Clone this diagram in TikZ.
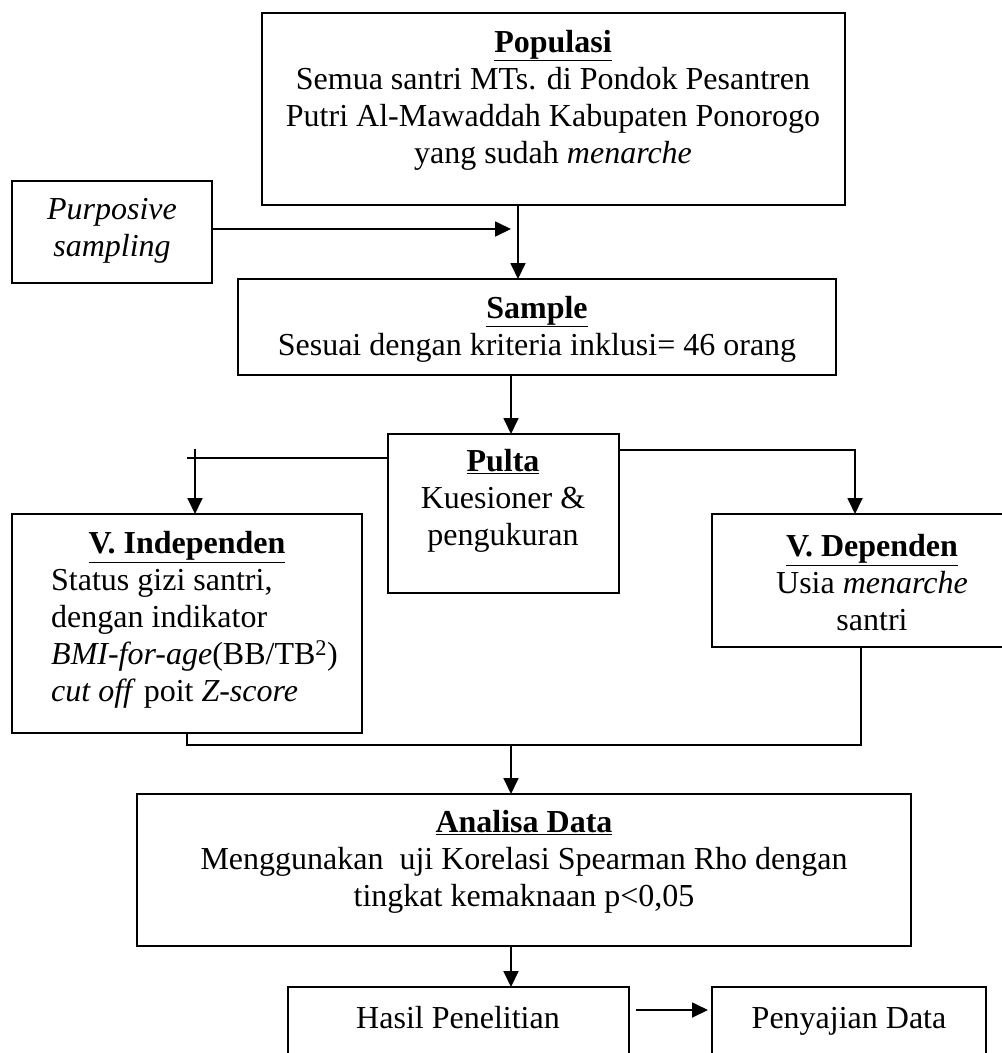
\documentclass[tikz,border=0pt]{standalone}
\usepackage{fontspec}
\setmainfont{Liberation Serif}
\usetikzlibrary{arrows.meta}
\begin{document}
\begin{tikzpicture}[x=1pt,y=-1pt,
  box/.style={draw, line width=1.8pt, inner sep=0pt, outer sep=0pt, anchor=north west},
  txt/.style={inner sep=0pt, font=\fontsize{32}{37}\selectfont, align=center},
  ltxt/.style={inner sep=0pt, font=\fontsize{32}{37}\selectfont, align=left, anchor=west},
  conn/.style={line width=1.8pt},
  arr/.style={line width=1.8pt, -{Triangle[length=16pt,width=15pt]}}]
\useasboundingbox (0,0) rectangle (1002,1053);
\clip (0,0) rectangle (1002,1053);
% boxes
\node[box, minimum width=583pt, minimum height=192pt] (pop) at (262,13) {};
\node[box, minimum width=200pt, minimum height=102pt] (pur) at (12,181) {};
\node[box, minimum width=598pt, minimum height=96pt] (sam) at (238,279) {};
\node[box, minimum width=231pt, minimum height=159pt] (pul) at (388,434) {};
\node[box, minimum width=350pt, minimum height=219pt] (ind) at (12,514) {};
\node[box, minimum width=330pt, minimum height=133pt] (dep) at (712,514) {};
\node[box, minimum width=774pt, minimum height=152pt] (ana) at (137,794) {};
\node[box, minimum width=341pt, minimum height=140pt] (has) at (288,987) {};
\node[box, minimum width=274pt, minimum height=140pt] (pen) at (712,987) {};
% texts
\node[txt] (popt) at (553,100) {\underline{\textbf{Populasi}}\\Semua santri MTs. di Pondok Pesantren\\Putri Al-Mawaddah Kabupaten Ponorogo\\yang sudah \textit{menarche}};
\node[txt] (purt) at (112,231) {\textit{Purposive}\\\textit{sampling}};
\node[txt] (samt) at (537,329) {\underline{\textbf{Sample}}\\Sesuai dengan kriteria inklusi= 46 orang};
\node[txt] (pult) at (503,501) {\underline{\textbf{Pulta}}\\Kuesioner \&\\pengukuran};
\node[txt] (indh) at (187,547) {\underline{\textbf{V. Independen}}};
\node[ltxt] (indt) at (51,639) {Status gizi santri,\\dengan indikator\\\textit{BMI-for-age}(BB/TB\textsuperscript{2})\\\textit{cut off} poit \textit{Z-score}};
\node[txt] (dept) at (872,583) {\underline{\textbf{V. Dependen}}\\Usia \textit{menarche}\\santri};
\node[txt] (anat) at (524,862) {\underline{\textbf{Analisa Data}}\\Menggunakan\ \ uji Korelasi Spearman Rho dengan\\tingkat kemaknaan p<0,05};
\node[txt, anchor=base] (hast) at (458,1028) {Hasil Penelitian};
\node[txt, anchor=base] (pent) at (849,1028) {Penyajian Data};
% helper coordinates
\coordinate (vline) at (518,229);
\coordinate (mid) at (511,0);
\coordinate (lc) at (195,458);
\coordinate (rc) at (855,450);
\coordinate (jl) at (187,745);
\coordinate (jr) at (861,745);
\coordinate (hr) at (0,1010);
% connectors
\draw[arr] (pur.east |- vline) -- ([xshift=-7pt]vline);
\draw[arr] (pop.south -| vline) -- (sam.north -| vline);
\draw[arr] (sam.south -| mid) -- (pul.north -| mid);
\draw[conn] (pul.west |- lc) -- ([xshift=-8pt]lc);
\draw[arr] ([yshift=9pt]lc) -- (ind.north -| lc);
\draw[arr] (pul.east |- rc) -- (rc) -- (dep.north -| rc);
\draw[conn] (ind.south -| jl) -- (jl) -- (jr) -- (dep.south -| jr);
\draw[arr] (jl -| mid) -- (ana.north -| mid);
\draw[arr] (ana.south -| mid) -- (has.north -| mid);
\draw[arr] ([xshift=7pt]has.east |- hr) -- ([xshift=-4pt]pen.west |- hr);
\end{tikzpicture}
\end{document}
